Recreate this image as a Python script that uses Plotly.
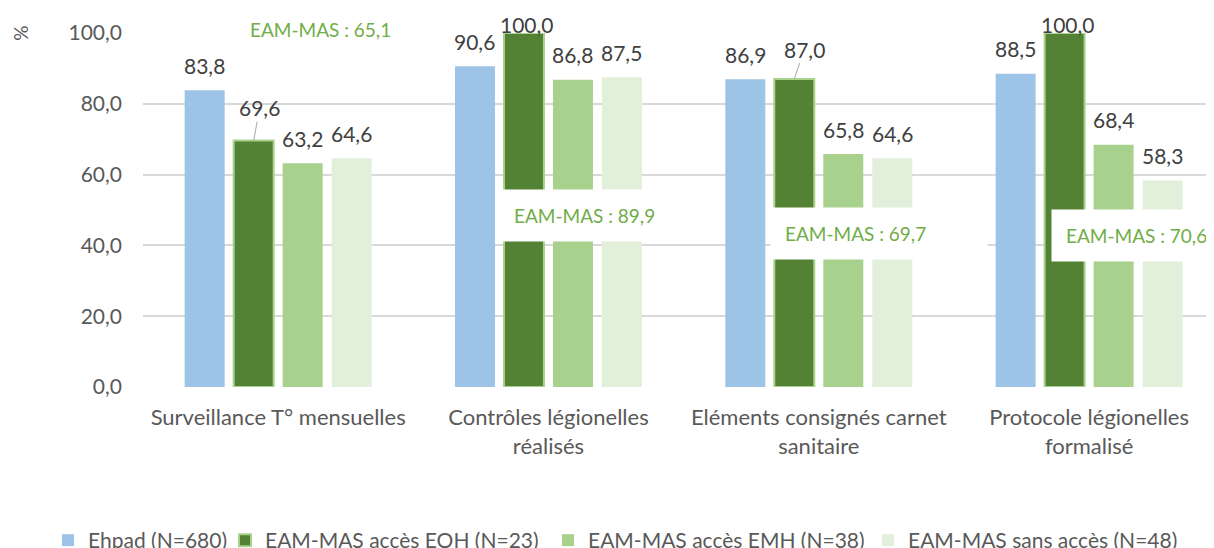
import plotly.graph_objects as go

# ---------------- data ----------------
categories = [
    "Surveillance T° mensuelles",
    "Contrôles légionelles<br>réalisés",
    "Eléments consignés carnet<br>sanitaire",
    "Protocole légionelles<br>formalisé",
]
series_names = [
    "Ehpad (N=680)",
    "EAM-MAS accès EOH (N=23)",
    "EAM-MAS accès EMH (N=38)",
    "EAM-MAS sans accès (N=48)",
]
ehpad = [83.8, 90.6, 86.9, 88.5]
eam_eoh = [69.6, 100.0, 87.0, 100.0]
eam_emh = [63.2, 86.8, 65.8, 68.4]
eam_sans = [64.6, 87.5, 64.6, 58.3]
eam_total = [65.1, 89.9, 69.7, 70.6]
y_ticks = [0, 20, 40, 60, 80, 100]

# ---------------- styles / positions ----------------
FONT = "Lato"
W, H = 1206, 540
colors = ["#9DC3E6", "#548235", "#A9D18E", "#E2EFDA"]
line_colors = ["#9DC3E6", "#A9D18E", "#A9D18E", "#E2EFDA"]
line_widths = [0, 2, 0, 0]
slot_px = 49  # pixel spacing between bars in a group
eam_box_xshift = [-43, -49, -49, -38]
eam_box_y = [100, 48.5, 43.5, 42.8]
eam_box_yshift = [4, 0, 0, 0]
# (series index, category index) -> (ax, ay) for labels with leader lines
leader = {(1, 0): (6, -33), (1, 2): (10, -30)}
legend_left_px = [40, 217, 540, 860]
legend_top_px = 512


def fmt(v):
    return f"{v:.1f}".replace(".", ",")


series = [ehpad, eam_eoh, eam_emh, eam_sans]
x_idx = list(range(len(categories)))
legend_ids = ["legend", "legend2", "legend3", "legend4"]

fig = go.Figure()
for k, (name, vals) in enumerate(zip(series_names, series)):
    fig.add_trace(go.Bar(
        x=x_idx, y=vals, name=name, legend=legend_ids[k],
        marker=dict(color=colors[k], line=dict(color=line_colors[k], width=line_widths[k])),
        hoverinfo="skip",
    ))

annotations = []
for k, vals in enumerate(series):
    for i, v in enumerate(vals):
        xs = (k - 1.5) * slot_px
        if (k, i) in leader:
            ax, ay = leader[(k, i)]
            annotations.append(dict(
                x=i, y=v, xref="x", yref="y", text=fmt(v), xshift=xs,
                showarrow=True, arrowhead=0, arrowwidth=1, arrowcolor="#A6A6A6",
                ax=ax, ay=ay, axref="pixel", ayref="pixel", standoff=0,
                font=dict(family=FONT, size=21, color="#404040"),
            ))
        else:
            ys = 9 if v >= 100 else 25
            annotations.append(dict(
                x=i, y=v, xref="x", yref="y", text=fmt(v),
                xshift=xs + (3 if v >= 100 else 0), yshift=ys,
                showarrow=False, xanchor="center", yanchor="middle",
                font=dict(family=FONT, size=21, color="#404040"),
            ))

for i, v in enumerate(eam_total):
    annotations.append(dict(
        x=i, y=eam_box_y[i], xref="x", yref="y",
        text=f"EAM-MAS : {fmt(v)}", showarrow=False,
        xanchor="left", yanchor="middle",
        xshift=eam_box_xshift[i], yshift=eam_box_yshift[i],
        bgcolor="white", borderpad=14, width=188, align="left",
        font=dict(family=FONT, size=19, color="#70AD47"),
    ))

annotations.append(dict(
    x=-0.115, y=100, xref="paper", yref="y", text="%", textangle=-90,
    showarrow=False, xanchor="center", yanchor="middle",
    font=dict(family=FONT, size=19, color="#595959"),
))

legend_style = dict(
    orientation="h", xref="container", yref="container",
    xanchor="left", yanchor="top", y=1 - legend_top_px / H,
    font=dict(family=FONT, size=21, color="#595959"),
    itemwidth=30, bgcolor="rgba(0,0,0,0)",
)
legends = {lid: dict(legend_style, x=legend_left_px[k] / W) for k, lid in enumerate(legend_ids)}

fig.update_layout(
    width=W, height=H,
    margin=dict(l=135, r=0, t=25, b=161),
    paper_bgcolor="white", plot_bgcolor="white",
    barmode="group", bargap=0.275, bargroupgap=0.184,
    separators=", ",
    font=dict(family=FONT, color="#595959"),
    annotations=annotations,
    showlegend=True,
    xaxis=dict(
        range=[-0.5, 3.462], tickvals=x_idx, ticktext=categories,
        showgrid=False, zeroline=False, showline=False, ticks="",
        tickfont=dict(family=FONT, size=22, color="#595959"),
        ticklabelstandoff=15,
    ),
    yaxis=dict(
        range=[0, 100], tickvals=y_ticks, tickformat=".1f",
        showgrid=True, gridcolor="#D9D9D9", gridwidth=1.5,
        zeroline=False, showline=False, ticks="",
        tickfont=dict(family=FONT, size=21, color="#595959"),
        ticklabelstandoff=20,
    ),
    **legends,
)

fig.write_html("out.html")
